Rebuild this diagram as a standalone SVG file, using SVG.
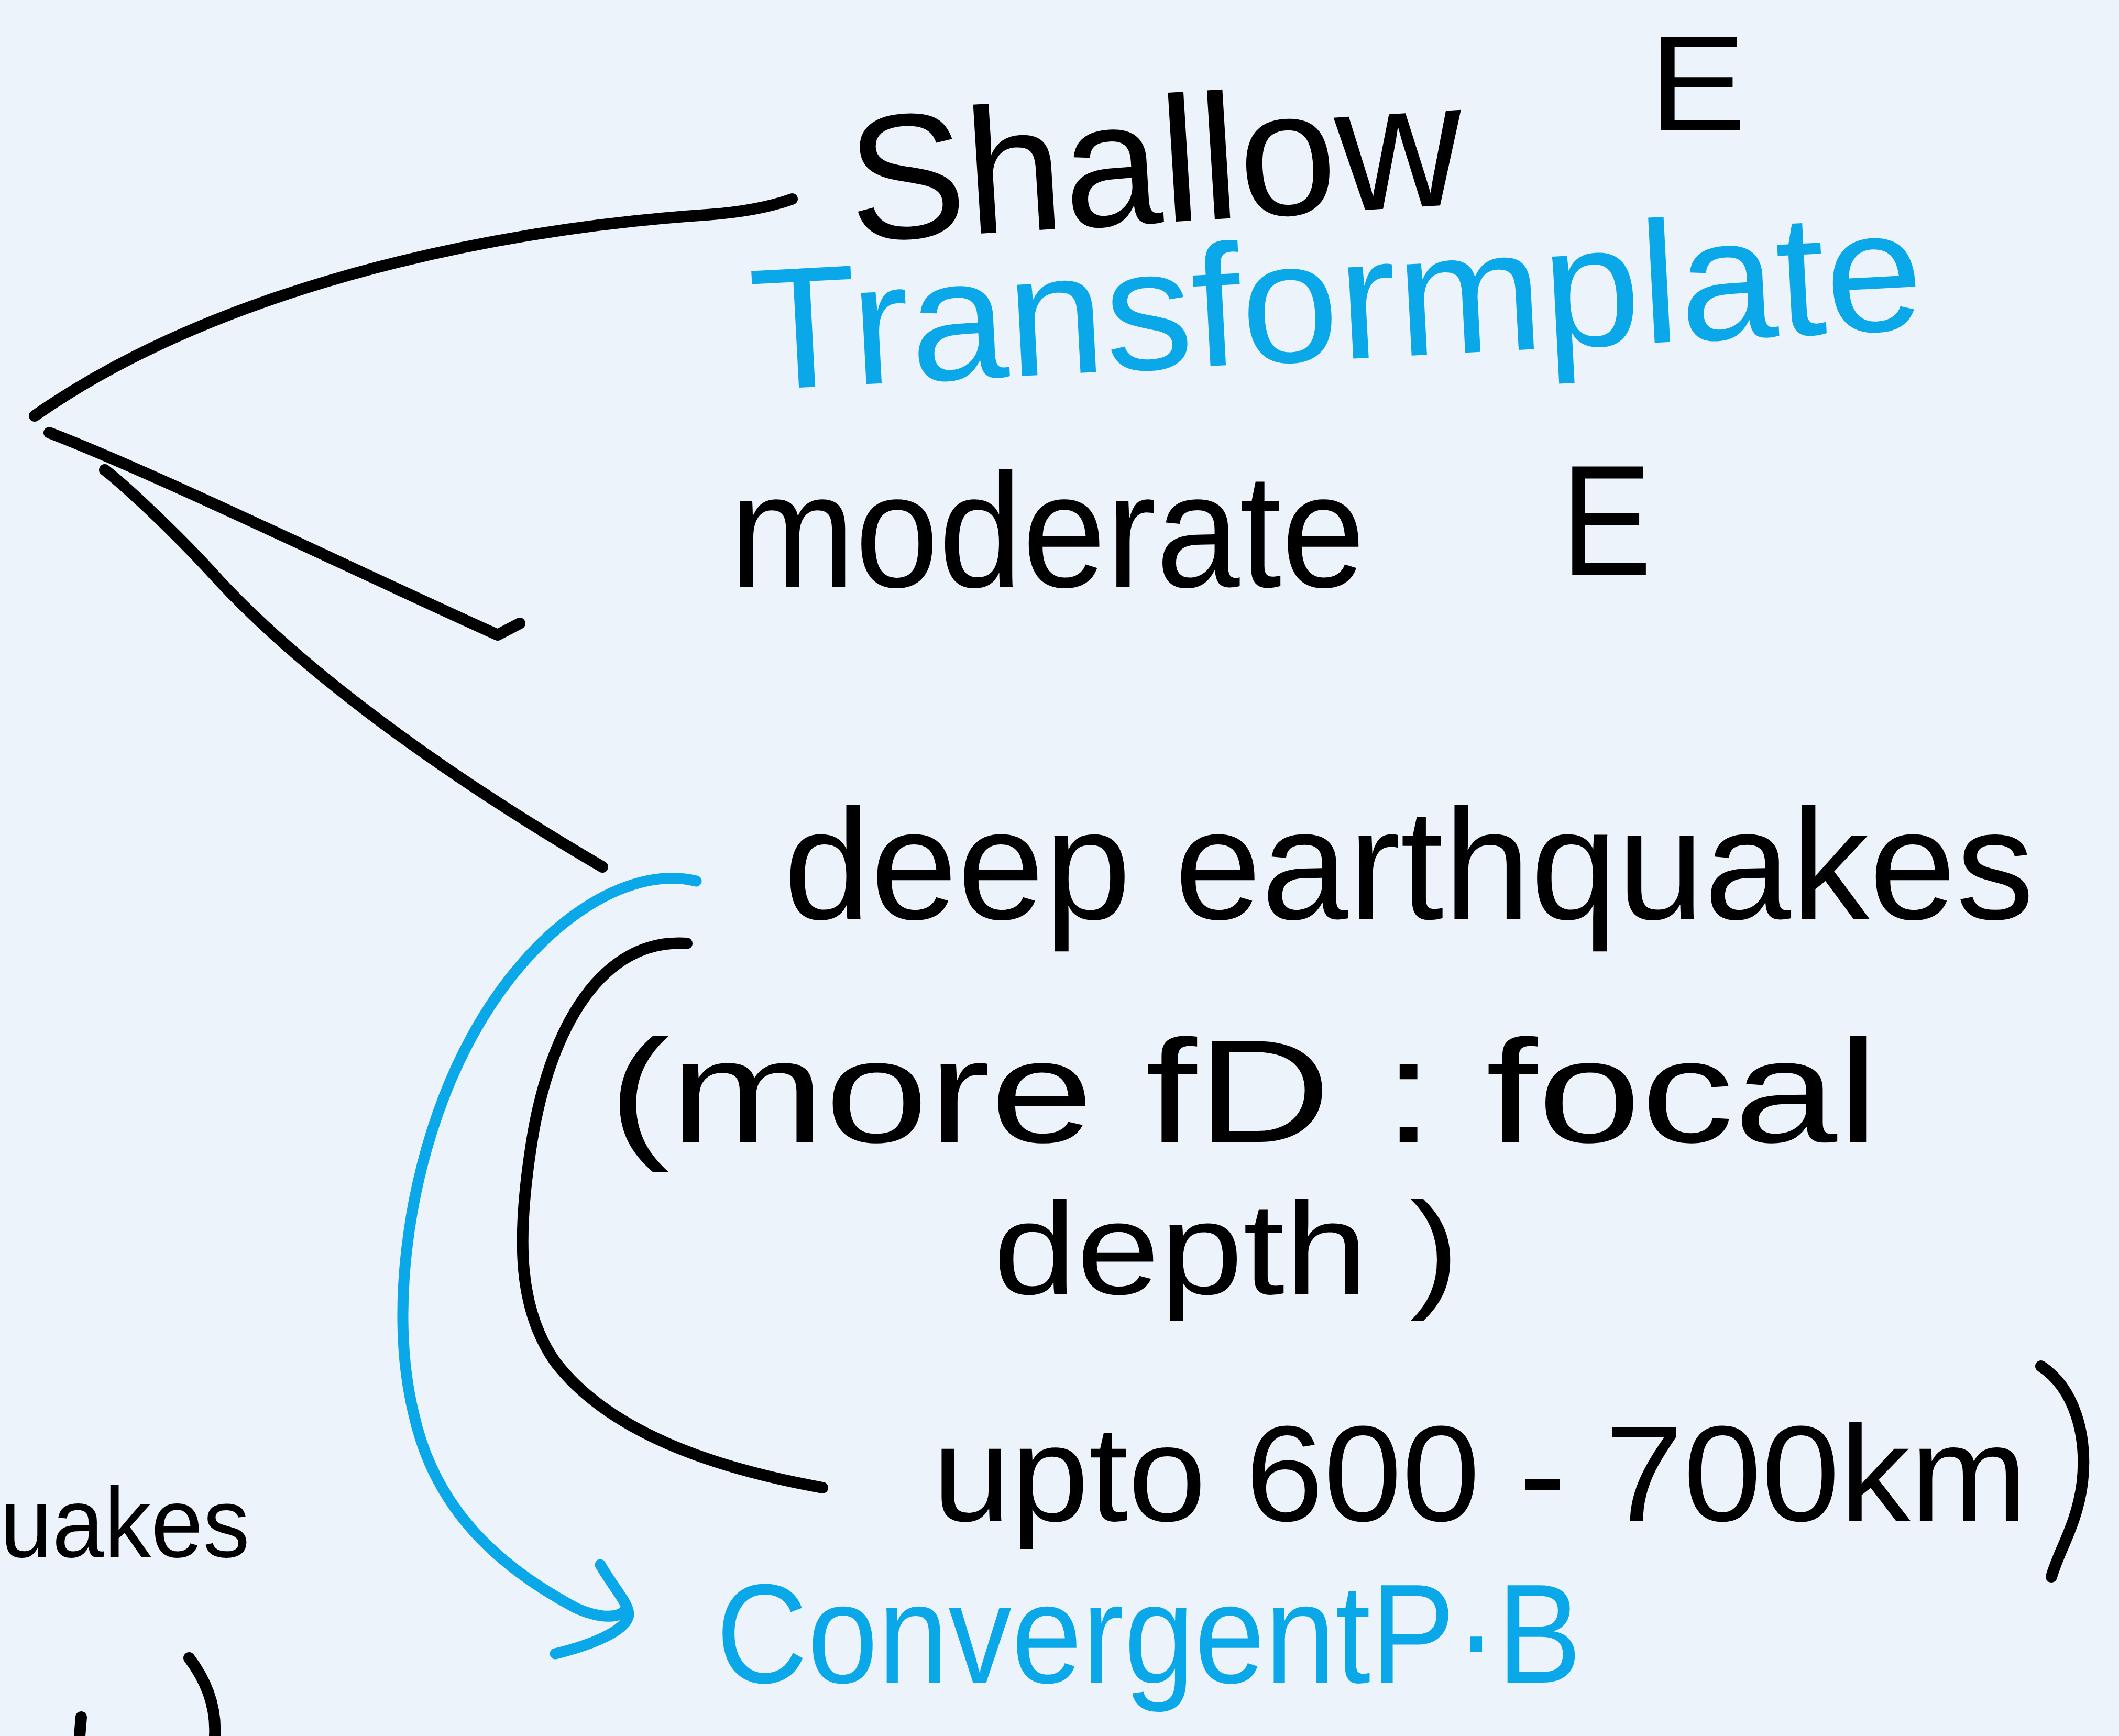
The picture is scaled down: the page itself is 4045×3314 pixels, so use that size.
<svg xmlns="http://www.w3.org/2000/svg" width="4045" height="3314" viewBox="0 0 4045 3314">
<style>
.bk{fill:#000;font-family:"Liberation Sans",Arial,sans-serif;}
.bl{fill:#0AA8E8;font-family:"Liberation Sans",Arial,sans-serif;}
.ink{fill:none;stroke:#000;stroke-width:22;stroke-linecap:round;stroke-linejoin:round;}
.blue{fill:none;stroke:#0AA8E8;stroke-width:21;stroke-linecap:round;stroke-linejoin:round;}
</style>
<rect x="0" y="0" width="4045" height="3314" fill="#ECF3FA"/>
<g id="connectors">
<path class="ink" d="M66,794 C 400,560 900,440 1350,410 C 1420,405 1470,395 1512,380"/>
<path class="ink" d="M94,826 C 300,905 700,1100 950,1212 L 992,1190"/>
<path class="ink" d="M200,897 C 230,920 330,1010 420,1110 C 560,1260 800,1450 1150,1655"/>
<path class="ink" d="M1311,1801 C 1150,1790 1050,1960 1015,2180 C 985,2370 990,2500 1060,2600 C 1160,2730 1350,2800 1570,2840"/>
<path class="ink" d="M3896,2608 C 3960,2650 3985,2740 3975,2830 C 3965,2910 3930,2960 3916,3010"/>
<path class="blue" d="M1329,1682 C 1200,1650 1020,1760 900,1980 C 780,2200 740,2500 790,2700 C 830,2880 950,2990 1100,3070 C 1150,3092 1185,3088 1194,3072"/>
<path class="blue" d="M1146,2987 C 1170,3030 1200,3060 1200,3082 C 1198,3112 1130,3140 1060,3157"/>
<path class="ink" d="M361,3165 C 395,3210 413,3260 410,3314"/>
<path class="ink" d="M155,3278 L 152,3314"/>
</g>
<g id="shallow"><text class="bk" x="1625" y="425" font-size="340" textLength="1175" lengthAdjust="spacingAndGlyphs" transform="rotate(-3.5 2212 425)">Shallow</text></g>
<g id="e-top"><text class="bk" x="3148" y="249" font-size="260" textLength="185" lengthAdjust="spacingAndGlyphs">E</text></g>
<g id="transform"><text class="bl" x="1437" y="686" font-size="330" textLength="2240" lengthAdjust="spacingAndGlyphs" transform="rotate(-3 2556 686)">Transformplate</text></g>
<g id="moderate"><text class="bk" x="1393" y="1120" font-size="310" textLength="1213" lengthAdjust="spacingAndGlyphs">moderate</text></g>
<g id="e-mid"><text class="bk" x="2980" y="1097" font-size="300" textLength="173" lengthAdjust="spacingAndGlyphs">E</text></g>
<g id="deep"><text class="bk" x="1496" y="1754" font-size="300" textLength="2387" lengthAdjust="spacingAndGlyphs">deep earthquakes</text></g>
<g id="focal"><text class="bk" x="1161" y="2180" font-size="280" textLength="2425" lengthAdjust="spacingAndGlyphs">(more fD : focal</text></g>
<g id="depth"><text class="bk" x="1896" y="2470" font-size="250" textLength="890" lengthAdjust="spacingAndGlyphs">depth )</text></g>
<g id="upto"><text class="bk" x="1780" y="2903" font-size="260" textLength="2090" lengthAdjust="spacingAndGlyphs">upto 600 - 700km</text></g>
<g id="convergent"><text class="bl" x="1367" y="3212" font-size="270" textLength="1652" lengthAdjust="spacingAndGlyphs">ConvergentP·B</text></g>
<g id="uakes"><text class="bk" x="0" y="2972" font-size="190" textLength="477" lengthAdjust="spacingAndGlyphs">uakes</text></g>
</svg>
